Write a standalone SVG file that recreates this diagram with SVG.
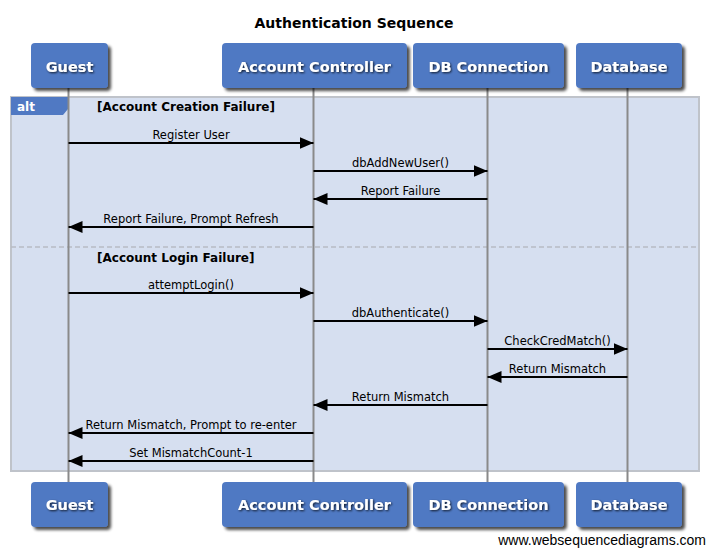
<svg xmlns="http://www.w3.org/2000/svg" width="707" height="548" viewBox="0 0 707 548">
<defs>
<filter id="sh" x="-20%" y="-20%" width="150%" height="160%">
<feGaussianBlur in="SourceAlpha" stdDeviation="1.5"/>
<feOffset dx="3" dy="3" result="b"/>
<feComponentTransfer><feFuncA type="linear" slope="0.7"/></feComponentTransfer>
<feMerge><feMergeNode/><feMergeNode in="SourceGraphic"/></feMerge>
</filter>
<filter id="tsh" x="-10%" y="-30%" width="120%" height="160%">
<feGaussianBlur in="SourceAlpha" stdDeviation="1"/>
<feOffset dx="1" dy="1"/>
<feComponentTransfer><feFuncA type="linear" slope="0.8"/></feComponentTransfer>
<feMerge><feMergeNode/><feMergeNode in="SourceGraphic"/></feMerge>
</filter>
<marker id="ah" viewBox="0 0 14 12" refX="14" refY="6" markerWidth="14" markerHeight="12" markerUnits="userSpaceOnUse" orient="auto">
<path d="M0,0 L14,6 L0,12 Z" fill="#000"/>
</marker>
</defs>
<style>
.box{fill:#5079c3;}
.pname{font-family:"DejaVu Sans",sans-serif;font-weight:bold;font-size:14.5px;fill:#fff;text-anchor:middle;}
.life{stroke:#8a8a8a;stroke-width:2;}
.msg{stroke:#000;stroke-width:2;fill:none;marker-end:url(#ah);}
.lbl{font-family:"DejaVu Sans",sans-serif;font-size:11.5px;fill:#000;text-anchor:middle;}
.cond{font-family:"DejaVu Sans",sans-serif;font-weight:bold;font-size:12px;fill:#000;}
</style>
<rect width="707" height="548" fill="#fff"/>
<text x="354" y="28" font-family="DejaVu Sans,sans-serif" font-weight="bold" font-size="14" text-anchor="middle" fill="#000">Authentication Sequence</text>

<g id="alt-frame">
<rect x="11" y="97" width="688" height="374" fill="#d6dff0" stroke="#bfc3ca" stroke-width="2"/>
<line x1="11" y1="247" x2="699" y2="247" stroke="#b8bcc4" stroke-width="1.5" stroke-dasharray="5,3"/>
<path d="M11,97 H68 V109 L63,115 H11 Z" fill="#5079c3"/>
<text x="17" y="111" font-family="DejaVu Sans,sans-serif" font-weight="bold" font-size="12" fill="#fff">alt</text>
<text class="cond" x="97" y="111">[Account Creation Failure]</text>
<text class="cond" x="97" y="262">[Account Login Failure]</text>
</g>

<g id="lifelines">
<line class="life" x1="68.5" y1="88" x2="68.5" y2="482"/>
<line class="life" x1="313.5" y1="88" x2="313.5" y2="482"/>
<line class="life" x1="487.5" y1="88" x2="487.5" y2="482"/>
<line class="life" x1="627.5" y1="88" x2="627.5" y2="482"/>
</g>

<g id="guest">
<rect class="box" x="31" y="43" width="77" height="45" rx="4" filter="url(#sh)"/>
<text class="pname" x="69.5" y="72" filter="url(#tsh)">Guest</text>
<rect class="box" x="31" y="482" width="77" height="45" rx="4" filter="url(#sh)"/>
<text class="pname" x="69.5" y="510" filter="url(#tsh)">Guest</text>
</g>
<g id="account-controller">
<rect class="box" x="222" y="43" width="185" height="45" rx="4" filter="url(#sh)"/>
<text class="pname" x="314.5" y="72" filter="url(#tsh)">Account Controller</text>
<rect class="box" x="222" y="482" width="185" height="45" rx="4" filter="url(#sh)"/>
<text class="pname" x="314.5" y="510" filter="url(#tsh)">Account Controller</text>
</g>
<g id="db-connection">
<rect class="box" x="413" y="43" width="151" height="45" rx="4" filter="url(#sh)"/>
<text class="pname" x="488.5" y="72" filter="url(#tsh)">DB Connection</text>
<rect class="box" x="413" y="482" width="151" height="45" rx="4" filter="url(#sh)"/>
<text class="pname" x="488.5" y="510" filter="url(#tsh)">DB Connection</text>
</g>
<g id="database">
<rect class="box" x="576" y="43" width="106" height="45" rx="4" filter="url(#sh)"/>
<text class="pname" x="629" y="72" filter="url(#tsh)">Database</text>
<rect class="box" x="576" y="482" width="106" height="45" rx="4" filter="url(#sh)"/>
<text class="pname" x="629" y="510" filter="url(#tsh)">Database</text>
</g>

<g id="connectors">
<line class="msg" x1="68.5" y1="143" x2="313.5" y2="143"/>
<text class="lbl" x="191" y="139">Register User</text>
<line class="msg" x1="313.5" y1="171" x2="487.5" y2="171"/>
<text class="lbl" x="400.5" y="167">dbAddNewUser()</text>
<line class="msg" x1="487.5" y1="199" x2="313.5" y2="199"/>
<text class="lbl" x="400.5" y="195">Report Failure</text>
<line class="msg" x1="313.5" y1="227" x2="68.5" y2="227"/>
<text class="lbl" x="191" y="223">Report Failure, Prompt Refresh</text>
<line class="msg" x1="68.5" y1="293" x2="313.5" y2="293"/>
<text class="lbl" x="191" y="289">attemptLogin()</text>
<line class="msg" x1="313.5" y1="321" x2="487.5" y2="321"/>
<text class="lbl" x="400.5" y="317">dbAuthenticate()</text>
<line class="msg" x1="487.5" y1="349" x2="627.5" y2="349"/>
<text class="lbl" x="557.5" y="345">CheckCredMatch()</text>
<line class="msg" x1="627.5" y1="377" x2="487.5" y2="377"/>
<text class="lbl" x="557.5" y="373">Return Mismatch</text>
<line class="msg" x1="487.5" y1="405" x2="313.5" y2="405"/>
<text class="lbl" x="400.5" y="401">Return Mismatch</text>
<line class="msg" x1="313.5" y1="433" x2="68.5" y2="433"/>
<text class="lbl" x="191" y="429">Return Mismatch, Prompt to re-enter</text>
<line class="msg" x1="313.5" y1="461" x2="68.5" y2="461"/>
<text class="lbl" x="191" y="457">Set MismatchCount-1</text>
</g>

<text x="706" y="545" font-family="Liberation Sans,Arial,sans-serif" font-size="14" text-anchor="end" fill="#000">www.websequencediagrams.com</text>
</svg>
